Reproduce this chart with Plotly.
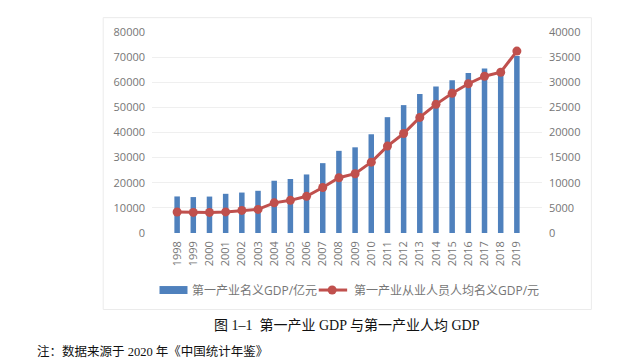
import plotly.graph_objects as go

years = [str(y) for y in range(1998, 2020)]
gdp_primary = [14550, 14300, 14500, 15600, 16100, 16800, 20800, 21500, 23300, 27800,
               32700, 34100, 39300, 46100, 50900, 55300, 58300, 60800, 63700, 65500,
               65000, 70400]
gdp_per_worker = [4170, 4100, 4100, 4200, 4500, 4700, 6000, 6500, 7300, 9050,
                  11000, 11800, 14100, 17300, 19800, 23000, 25600, 27800, 29700, 31200,
                  32000, 36200]
left_ticks = [0, 10000, 20000, 30000, 40000, 50000, 60000, 70000, 80000]
right_ticks = [0, 5000, 10000, 15000, 20000, 25000, 30000, 35000, 40000]

name_bar = "第一产业名义GDP/亿元"
name_line = "第一产业从业人员人均名义GDP/元"
caption = "图 1–1  第一产业 GDP 与第一产业人均 GDP"
note = "注：数据来源于 2020 年《中国统计年鉴》"

W, H = 629, 361
L, R, T, B = 151.5, 541.6, 31.7, 233.3
BAR_C = "#4F81BD"
LINE_C = "#C0504D"
TICK_C = "#767676"
FONT = "Open Sans, Noto Sans CJK SC, sans-serif"

def px(x):
    return (x - L) / (R - L)

def py(y):
    return (B - y) / (B - T)

fig = go.Figure()
fig.add_trace(go.Bar(x=years, y=gdp_primary, name=name_bar, marker_color=BAR_C,
                     marker_line_width=0, yaxis="y", showlegend=False))
fig.add_trace(go.Scatter(x=years, y=gdp_per_worker, name=name_line, mode="lines+markers",
                         line=dict(color=LINE_C, width=3),
                         marker=dict(color=LINE_C, size=9), yaxis="y2", showlegend=False))

fig.update_layout(
    width=W, height=H,
    margin=dict(l=L, r=W - R, t=T, b=H - B, autoexpand=False),
    paper_bgcolor="white", plot_bgcolor="white",
    bargap=0.66,
    font=dict(family=FONT, size=11, color=TICK_C),
    xaxis=dict(type="category", tickangle=-90, ticks="", showgrid=False,
               showline=False, zeroline=False, ticklabelstandoff=5,
               tickfont=dict(size=11, color=TICK_C)),
    yaxis=dict(range=[0, 80000], tickvals=left_ticks, ticktext=[str(v) for v in left_ticks],
               showgrid=True, gridcolor="#EFEFEF", gridwidth=1, zeroline=False,
               ticks="", showline=False, ticklabelstandoff=6,
               tickfont=dict(size=11, color=TICK_C)),
    yaxis2=dict(range=[0, 40000], tickvals=right_ticks, ticktext=[str(v) for v in right_ticks],
                overlaying="y", side="right", showgrid=False, zeroline=False,
                ticks="", showline=False, ticklabelstandoff=6,
                tickfont=dict(size=11, color=TICK_C)),
)

shapes = []
# chart border
shapes.append(dict(type="rect", xref="paper", yref="paper",
                   x0=px(102.7), x1=px(591), y0=py(310), y1=py(17.3),
                   line=dict(color="#EBEBEB", width=1), fillcolor="rgba(0,0,0,0)", layer="below"))
# custom legend
shapes.append(dict(type="rect", xref="paper", yref="paper",
                   x0=px(159), x1=px(187), y0=py(294.5), y1=py(286.5),
                   line=dict(width=0), fillcolor=BAR_C))
shapes.append(dict(type="line", xref="paper", yref="paper",
                   x0=px(318.3), x1=px(346.7), y0=py(290.5), y1=py(290.5),
                   line=dict(color=LINE_C, width=3)))
shapes.append(dict(type="circle", xref="paper", yref="paper",
                   x0=px(331.7 - 4.5), x1=px(331.7 + 4.5), y0=py(290.5 + 4.5), y1=py(290.5 - 4.5),
                   line=dict(width=0), fillcolor=LINE_C))
fig.update_layout(shapes=shapes)

annotations = [
    dict(text=name_bar, xref="paper", yref="paper", x=px(190), y=py(290.5),
         xanchor="left", yanchor="middle", showarrow=False,
         font=dict(family=FONT, size=12, color=TICK_C)),
    dict(text=name_line, xref="paper", yref="paper", x=px(351.7), y=py(290.5),
         xanchor="left", yanchor="middle", showarrow=False,
         font=dict(family=FONT, size=12, color=TICK_C)),
    dict(text=caption, xref="paper", yref="paper", x=px(347), y=py(326),
         xanchor="center", yanchor="middle", showarrow=False,
         font=dict(family="Liberation Serif, Noto Sans CJK SC, serif", size=14, color="#111111")),
    dict(text=note, xref="paper", yref="paper", x=px(34), y=py(352),
         xanchor="left", yanchor="middle", showarrow=False,
         font=dict(family="Liberation Serif, Noto Sans CJK SC, serif", size=12.5, color="#111111")),
]
fig.update_layout(annotations=annotations)

fig.write_html("out.html", config={"displayModeBar": False},
               post_script="document.body.style.margin='0';document.body.style.overflow='hidden';")
